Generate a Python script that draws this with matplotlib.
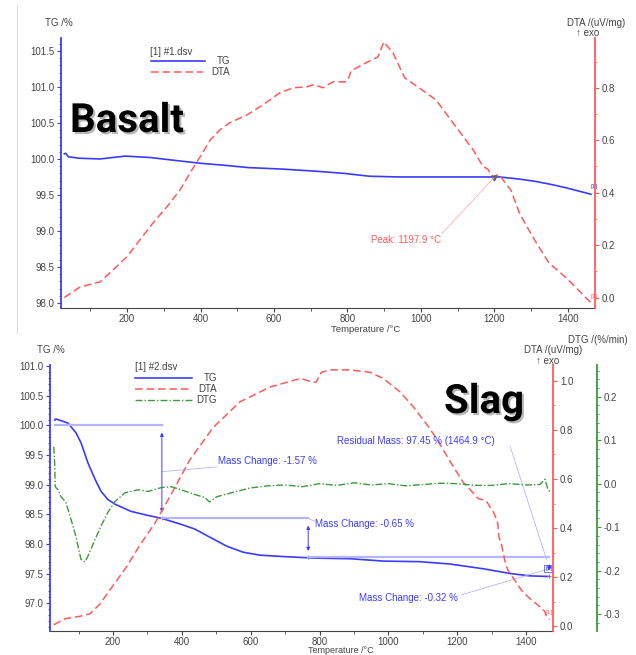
import matplotlib
matplotlib.use("Agg")
import matplotlib.pyplot as plt
import matplotlib.patheffects as pe
from matplotlib.ticker import MultipleLocator
from matplotlib.lines import Line2D

plt.rcParams['font.family'] = ['Liberation Sans', 'DejaVu Sans']
plt.rcParams['axes.unicode_minus'] = False

# ---- Basalt (top) ----
bas_T_tg = [29, 33, 40, 70, 127, 195, 263, 330, 400, 470, 530, 620, 714, 790, 860,
            940, 1020, 1100, 1150, 1215, 1269, 1310, 1351, 1395, 1433, 1463]
bas_tg = [100.07, 100.08, 100.03, 100.01, 100.0, 100.04, 100.02, 99.98, 99.94, 99.91,
          99.88, 99.86, 99.83, 99.80, 99.76, 99.75, 99.75, 99.75, 99.75, 99.75, 99.72,
          99.69, 99.65, 99.60, 99.55, 99.51]

bas_T_dta = [29, 72, 99, 127, 154, 200, 235, 271, 309, 344, 380, 399, 426, 453, 480,
             527, 570, 616, 652, 690, 706, 714, 733, 761, 796, 804, 810, 850, 883, 899,
             924, 956, 995, 1041, 1087, 1142, 1169, 1182, 1196, 1212, 1245, 1269, 1305,
             1348, 1395, 1433, 1463]
bas_dta = [0.0, 0.04, 0.05, 0.06, 0.095, 0.156, 0.22, 0.285, 0.347, 0.41, 0.495, 0.537,
           0.60, 0.64, 0.667, 0.697, 0.735, 0.781, 0.80, 0.804, 0.811, 0.81, 0.80, 0.823,
           0.823, 0.84, 0.865, 0.895, 0.918, 0.975, 0.933, 0.838, 0.80, 0.754, 0.667,
           0.564, 0.50, 0.49, 0.46, 0.47, 0.41, 0.32, 0.23, 0.133, 0.076, 0.023, -0.02]
bas_peak_T = 1197.9
bas_peak_dta = 0.455

# ---- Slag (bottom) ----
slag_T_tg = [31, 34, 69, 92, 107, 127, 148, 165, 185, 206, 252, 302, 342, 398, 438,
             476, 531, 578, 627, 715, 790, 889, 985, 1092, 1180, 1276, 1354, 1412, 1467]
slag_tg = [100.09, 100.11, 100.04, 99.88, 99.71, 99.37, 99.09, 98.89, 98.75, 98.67,
           98.55, 98.48, 98.43, 98.33, 98.25, 98.13, 97.96, 97.86, 97.81, 97.78, 97.76,
           97.75, 97.71, 97.70, 97.66, 97.58, 97.50, 97.46, 97.45]

slag_T_dta = [28, 60, 104, 133, 162, 200, 241, 278, 322, 366, 424, 491, 569, 656, 744,
              781, 790, 805, 831, 889, 947, 985, 1034, 1072, 1113, 1142, 1180, 1217,
              1236, 1260, 1284, 1308, 1318, 1321, 1328, 1338, 1347, 1367, 1386, 1410,
              1439, 1454, 1459, 1468]
slag_dta = [0.005, 0.03, 0.04, 0.05, 0.09, 0.165, 0.245, 0.33, 0.42, 0.53, 0.68, 0.81,
            0.915, 0.975, 1.01, 0.995, 0.995, 1.035, 1.045, 1.045, 1.035, 1.01, 0.955,
            0.895, 0.82, 0.76, 0.67, 0.587, 0.559, 0.521, 0.511, 0.457, 0.417, 0.363,
            0.336, 0.268, 0.228, 0.187, 0.147, 0.113, 0.08, 0.06, 0.04, 0.026]

slag_T_dtg = [28, 31, 32, 40, 49, 63, 78, 92, 107, 119, 127, 148, 165, 185, 206, 235,
              273, 302, 340, 369, 398, 438, 467, 480, 502, 549, 598, 650, 700, 750, 800,
              850, 900, 950, 1000, 1050, 1100, 1150, 1200, 1250, 1300, 1350, 1400, 1440,
              1455, 1462, 1470]
slag_dtg = [0.085, 0.04, -0.007, -0.014, -0.03, -0.043, -0.082, -0.121, -0.174, -0.18,
            -0.167, -0.128, -0.098, -0.066, -0.041, -0.021, -0.014, -0.018, -0.009,
            -0.007, -0.014, -0.025, -0.032, -0.042, -0.03, -0.02, -0.01, -0.005, -0.003,
            -0.007, 0.0, -0.004, 0.002, -0.003, 0.0, -0.005, -0.002, 0.001, 0.0, -0.004,
            -0.004, 0.0, -0.003, -0.002, 0.01, -0.01, -0.02]

# mass change steps: (T, from, to)
steps = [(342, 100.0, 98.43), (767, 98.43, 97.78), (1467, 97.78, 97.45)]

BLUE = '#3b3bff'
LBLUE = '#b4b4ff'
RED = '#ff5a5a'
GREEN = '#3d9a3d'
GREY = '#444444'
W, H = 636, 655
FS = 7


def box(l, t, r, b):
    return [l / W, 1 - b / H, (r - l) / W, (b - t) / H]


def ftext(x, y, s, **kw):
    kw.setdefault('fontsize', FS)
    kw.setdefault('color', GREY)
    fig.text(x / W, 1 - y / H, s, **kw)


def fline(x0, x1, y, **kw):
    fig.add_artist(Line2D([x0 / W, x1 / W], [1 - y / H, 1 - y / H], **kw))


def base_style(ax):
    for s in ['top', 'right']:
        ax.spines[s].set_visible(False)
    ax.spines['bottom'].set_color(GREY)
    ax.spines['left'].set_color(BLUE)
    ax.spines['left'].set_linewidth(1.3)
    ax.xaxis.set_major_locator(MultipleLocator(200))
    ax.xaxis.set_minor_locator(MultipleLocator(100))
    ax.tick_params(axis='x', labelsize=FS, colors=GREY, length=3, pad=1)
    ax.tick_params(axis='x', which='minor', length=2, colors=GREY)
    ax.tick_params(axis='y', labelsize=FS, color=BLUE, labelcolor=GREY, length=3, pad=2)
    ax.tick_params(axis='y', which='minor', length=1.5, color=BLUE)
    ax.yaxis.set_major_locator(MultipleLocator(0.5))
    ax.yaxis.set_minor_locator(MultipleLocator(0.1))


def right_style(ax, color, step, minor):
    for s in ['top', 'left', 'bottom']:
        ax.spines[s].set_visible(False)
    ax.spines['right'].set_color(color)
    ax.spines['right'].set_linewidth(1.3)
    ax.yaxis.set_major_locator(MultipleLocator(step))
    ax.yaxis.set_minor_locator(MultipleLocator(minor))
    ax.tick_params(axis='y', labelsize=FS, color=color, labelcolor=GREY, length=3, pad=2)
    ax.tick_params(axis='y', which='minor', length=1.5, color=color)


fig = plt.figure(figsize=(6.36, 6.55), dpi=100)
fig.add_artist(Line2D([17 / W, 17 / W], [1 - 333 / H, 1 - 5 / H], color='#dddddd', lw=0.8))

shadow = [pe.withSimplePatchShadow(offset=(1.5, -1.5), shadow_rgbFace='#888888', alpha=0.6)]
big = dict(fontsize=29, fontweight='bold', color='black',
           family=['Roboto', 'Liberation Sans'], va='baseline', path_effects=shadow)

# ================= Basalt =================
ax = fig.add_axes(box(61, 38, 595, 308))
ax.plot(bas_T_tg, bas_tg, color=BLUE, lw=1.2)
ax.set_xlim(20, 1474)
ax.set_ylim(97.93, 101.68)
base_style(ax)
ax.yaxis.set_major_formatter('{x:.1f}')
ax.text(1462, bas_tg[-1] + 0.08, '[1]', color=BLUE, fontsize=4.5)

ax2 = ax.twinx()
ax2.plot(bas_T_dta, bas_dta, color=RED, lw=1.1, dashes=(5, 2.5))
ax2.set_ylim(-0.04, 0.99)
right_style(ax2, RED, 0.2, 0.1)
ax2.yaxis.set_major_formatter('{x:.1f}')
ax2.plot([bas_peak_T], [bas_peak_dta], marker='v', ms=3.5, color='#666666')
ax2.plot([1057, bas_peak_T], [0.244, bas_peak_dta], color='#ffb0b0', lw=0.6)
ax2.text(1462, 0.0, '[1]', color=RED, fontsize=4.5)

ftext(45, 23, 'TG /%', va='center')
ftext(596, 23, 'DTA /(uV/mg)', ha='center', va='center')
ftext(588, 33, '↑ exo', ha='center', va='center')
ftext(366, 329, 'Temperature /°C', ha='center', va='center', fontsize=6.8)
ftext(371, 240, 'Peak: 1197.9 °C', color=RED, va='center')

ftext(150, 52, '[1] #1.dsv', va='center')
fline(151, 205, 61, color=BLUE, lw=1.2)
ftext(230, 61, 'TG', ha='right', va='center')
fline(151, 203, 72, color=RED, lw=1.1, dashes=(5, 2.5))
ftext(230, 72, 'DTA', ha='right', va='center')

ftext(70, 132, 'Basalt', **big)

# ================= Slag =================
bx = fig.add_axes(box(50, 365, 553, 631))
bx.plot(slag_T_tg, slag_tg, color=BLUE, lw=1.2)
bx.set_xlim(17, 1478)
bx.set_ylim(96.53, 101.02)
base_style(bx)
bx.yaxis.set_major_formatter('{x:.1f}')

x_prev = slag_T_tg[0]
for T, y0, y1 in steps:
    bx.plot([x_prev, T], [y0, y0], color=LBLUE, lw=1.6)
    bx.annotate('', xy=(T, y1 + 0.1), xytext=(T, y0 - 0.12),
                arrowprops=dict(arrowstyle='<|-|>', color=BLUE, lw=0.7,
                                mutation_scale=5, shrinkA=0, shrinkB=0))
    bx.plot([T], [y1], marker='+', ms=3, color='#777777', mew=0.6)
    x_prev = T
bx.plot([342, 502], [99.22, 99.30], color=LBLUE, lw=0.6)
bx.plot([767, 787], [98.43, 98.38], color=LBLUE, lw=0.6)
bx.plot([1212, 1467], [97.14, 97.58], color=LBLUE, lw=0.6)
bx.plot([1354, 1459], [99.64, 97.74], color=LBLUE, lw=0.6)
bx.text(1455, 97.56, '[1]', color=BLUE, fontsize=4.5,
        bbox=dict(boxstyle='square,pad=0.1', fc='none', ec=BLUE, lw=0.5))

bx2 = bx.twinx()
bx2.plot(slag_T_dta, slag_dta, color=RED, lw=1.1, dashes=(5, 2.5))
bx2.set_ylim(-0.02, 1.065)
right_style(bx2, RED, 0.2, 0.1)
bx2.yaxis.set_major_formatter('{x:.1f}')
bx2.text(1455, 0.05, '[1]', color=RED, fontsize=4.5)

bx3 = bx.twinx()
bx3.spines['right'].set_position(('axes', 1.0875))
bx3.plot(slag_T_dtg, slag_dtg, color=GREEN, lw=1.0, dashes=(5, 1.5, 1, 1.5))
bx3.set_ylim(-0.339, 0.273)
right_style(bx3, GREEN, 0.1, 0.02)
bx3.yaxis.set_major_formatter('{x:.1f}')

ftext(37, 350, 'TG /%', va='center')
ftext(598, 340, 'DTG /(%/min)', ha='center', va='center')
ftext(553, 350, 'DTA /(uV/mg)', ha='center', va='center')
ftext(548, 361, '↑ exo', ha='center', va='center')
ftext(341, 650.5, 'Temperature /°C', ha='center', va='center', fontsize=6.5)

ftext(218, 461, 'Mass Change: -1.57 %', color=BLUE, va='center')
ftext(315, 524, 'Mass Change: -0.65 %', color=BLUE, va='center')
ftext(359, 598, 'Mass Change: -0.32 %', color=BLUE, va='center')
ftext(337, 441, 'Residual Mass: 97.45 % (1464.9 °C)', color=BLUE, va='center')

ftext(135, 367, '[1] #2.dsv', va='center')
fline(135, 192, 378, color=BLUE, lw=1.2)
ftext(217, 378, 'TG', ha='right', va='center')
fline(135, 192, 389, color=RED, lw=1.1, dashes=(5, 2.5))
ftext(217, 389, 'DTA', ha='right', va='center')
fline(135, 192, 400, color=GREEN, lw=1.0, dashes=(5, 1.5, 1, 1.5))
ftext(217, 400, 'DTG', ha='right', va='center')

ftext(444, 413, 'Slag', **big)

fig.savefig('out.png', dpi=100)
